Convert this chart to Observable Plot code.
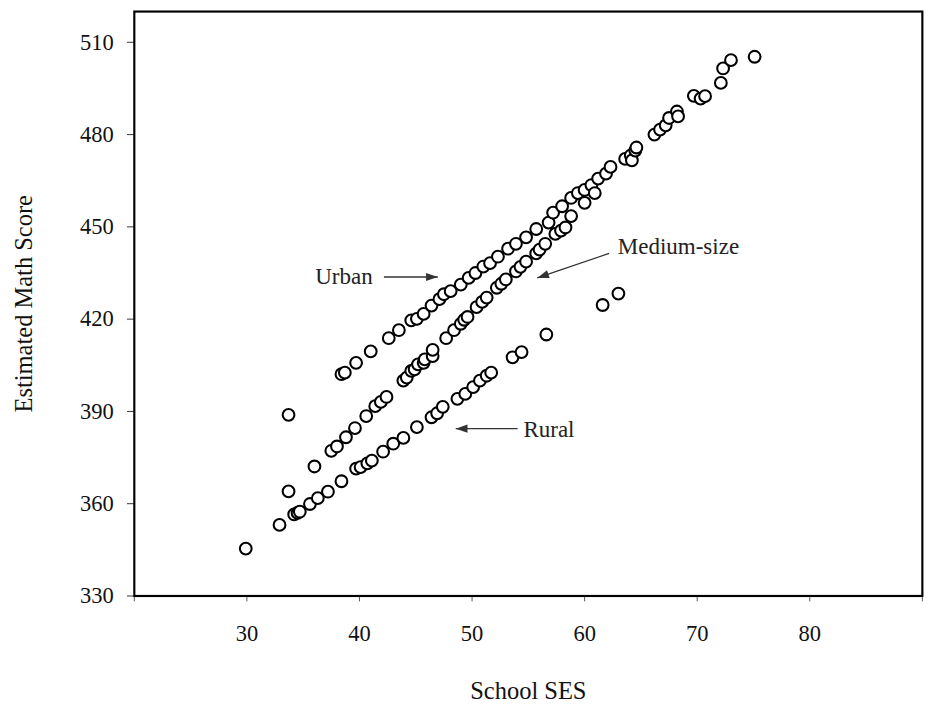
<!DOCTYPE html>
<html>
<head>
<meta charset="utf-8">
<script src="https://cdn.jsdelivr.net/npm/d3@7"></script>
<script src="https://cdn.jsdelivr.net/npm/@observablehq/plot@0.6"></script>
<style>
html,body{margin:0;padding:0;overflow:hidden;background:#fff;}
#chart{width:930px;height:719px;overflow:hidden;}
#chart svg, #chart svg text{font-family:"Liberation Serif","Times New Roman",serif !important;}
</style>
</head>
<body>
<div id="chart"></div>
<script>
// School SES vs estimated math score, by school location
const urbanSES = [33.7,38.4,38.7,39.7,41.0,42.6,43.5,44.6,45.1,45.7,46.4,47.1,47.5,48.1,49.0,49.7,50.3,51.0,51.6,52.3,53.2,53.9,54.8,55.7,56.8,57.2,58.0,58.8,59.4,60.0,60.6,61.2,61.9,62.3,63.6,64.1,64.2,64.5,64.6,66.2,66.7,67.2,67.5,68.2,68.3,69.7,70.3,70.7,72.1,72.3,73.0,75.1];
const urbanScore = [388.9,402.1,402.6,405.8,409.5,413.8,416.4,419.6,420.1,421.7,424.4,426.5,428.1,429.1,431.2,433.4,435.0,437.1,438.2,440.3,442.9,444.5,446.6,449.3,451.4,454.6,456.7,459.4,461.0,462.0,463.6,465.7,467.3,469.5,472.1,473.2,471.6,474.8,475.8,480.0,481.6,483.0,485.4,487.5,485.9,492.6,491.7,492.5,496.8,501.5,504.2,505.3];

const mediumSES = [33.7,36.0,37.5,38.0,38.8,39.6,40.6,41.4,41.9,42.4,43.9,44.2,44.6,44.9,45.2,45.7,45.8,46.5,46.5,47.7,48.4,49.0,49.3,49.6,50.4,50.9,51.3,52.2,52.6,53.0,53.9,54.3,54.8,55.7,56.0,56.5,57.4,57.9,58.3,58.8,60.0,60.9];
const mediumScore = [364.0,372.1,377.2,378.6,381.6,384.6,388.5,391.7,393.1,394.7,400.0,401.0,403.2,403.7,405.3,405.8,406.9,408.0,410.0,413.8,416.4,418.5,419.8,420.7,423.9,425.6,427.0,430.2,431.5,432.9,435.5,437.0,438.7,441.4,442.6,444.5,447.7,448.8,449.8,453.5,457.8,461.0];

const ruralSES = [29.9,32.9,34.2,34.5,34.7,35.6,36.3,37.2,38.4,39.7,40.1,40.7,41.1,42.1,43.0,43.9,45.1,46.4,46.9,47.4,48.7,49.4,50.1,50.7,51.3,51.7,53.6,54.4,56.6,61.6,63.0];
const ruralScore = [345.4,353.1,356.5,357.0,357.4,359.9,361.8,363.9,367.3,371.4,371.9,373.1,374.0,376.9,379.5,381.4,384.9,388.1,389.4,391.5,394.1,395.7,397.9,400.0,401.6,402.6,407.6,409.3,415.0,424.6,428.3];

const xTicks = [20,30,40,50,60,70,80,90];
const xTickLabels = ["","30","40","50","60","70","80",""];
const yTicks = [330,360,390,420,450,480,510];

const xTitle = "School SES";
const yTitle = "Estimated Math Score";

// annotations (label text, label position, arrow start/end, arrow direction)
const annLabels = ["Urban","Medium-size","Rural"];
const annLabelX = [38.62,68.33,56.83];
const annLabelY = [433.9,443.45,384.1];
const arrowX1 = [42.17,62.17,54.05];
const arrowY1 = [433.7,441.35,384.4];
const arrowX2 = [46.96,55.79,48.55];
const arrowY2 = [433.7,433.4,384.4];
const arrowAngle = [90,251.2,270];

const points = [
  ...urbanSES.map((x,i)=>({x, y: urbanScore[i], g:"Urban"})),
  ...mediumSES.map((x,i)=>({x, y: mediumScore[i], g:"Medium-size"})),
  ...ruralSES.map((x,i)=>({x, y: ruralScore[i], g:"Rural"}))
];
const ann = annLabels.map((t,i)=>({t, lx:annLabelX[i], ly:annLabelY[i], x1:arrowX1[i], y1:arrowY1[i], x2:arrowX2[i], y2:arrowY2[i], a:arrowAngle[i]}));

const arrowHead = {
  draw(ctx, size) {
    const L = 12, W = 4.2;
    ctx.moveTo(0, 0);
    ctx.lineTo(-W, L);
    ctx.lineTo(W, L);
    ctx.closePath();
  }
};

const FONT = "Liberation Serif";
const fmt = d => { const i = xTicks.indexOf(d); return i >= 0 ? xTickLabels[i] : ""; };

const chart = Plot.plot({
  width: 950,
  height: 719,
  marginLeft: 136.7,
  marginRight: 8.3,
  marginTop: 11.3,
  marginBottom: 110.7,
  style: "font-family: 'Liberation Serif', 'Times New Roman', serif; font-size: 23px; color: #111; background: #fff;",
  x: {domain: [20, 90]},
  y: {domain: [330, 520]},
  marks: [
    Plot.axisX({ticks: xTicks, tickFormat: fmt, tickSize: 6, tickPadding: 24, label: null, stroke: "#555", fill: "#111", fontFamily: FONT, fontSize: 23}),
    Plot.axisY({ticks: yTicks, tickSize: 7, tickPadding: 14, label: null, stroke: "#333", fill: "#111", fontFamily: FONT, fontSize: 23}),
    Plot.frame({stroke: "black", strokeWidth: 2.2}),
    Plot.link(ann, {x1: "x1", y1: "y1", x2: "x2", y2: "y2", stroke: "#333", strokeWidth: 1.3}),
    Plot.dot(ann, {x: "x2", y: "y2", symbol: arrowHead, rotate: "a", fill: "#333", stroke: "none", r: 5}),
    Plot.text(ann, {x: "lx", y: "ly", text: "t", fontFamily: FONT, fontSize: 23.5, fill: "#222", textAnchor: "middle", lineAnchor: "middle"}),
    Plot.dot(points, {x: "x", y: "y", r: 6, fill: "white", stroke: "black", strokeWidth: 2.1}),
    Plot.text([xTitle], {frameAnchor: "bottom", dy: 97, lineAnchor: "middle", fontFamily: FONT, fontSize: 25, fill: "#111"}),
    Plot.text([yTitle], {frameAnchor: "left", dx: -113, rotate: -90, lineAnchor: "middle", textAnchor: "middle", fontFamily: FONT, fontSize: 25, fill: "#111"})
  ]
});
document.getElementById("chart").appendChild(chart);
</script>
</body>
</html>
